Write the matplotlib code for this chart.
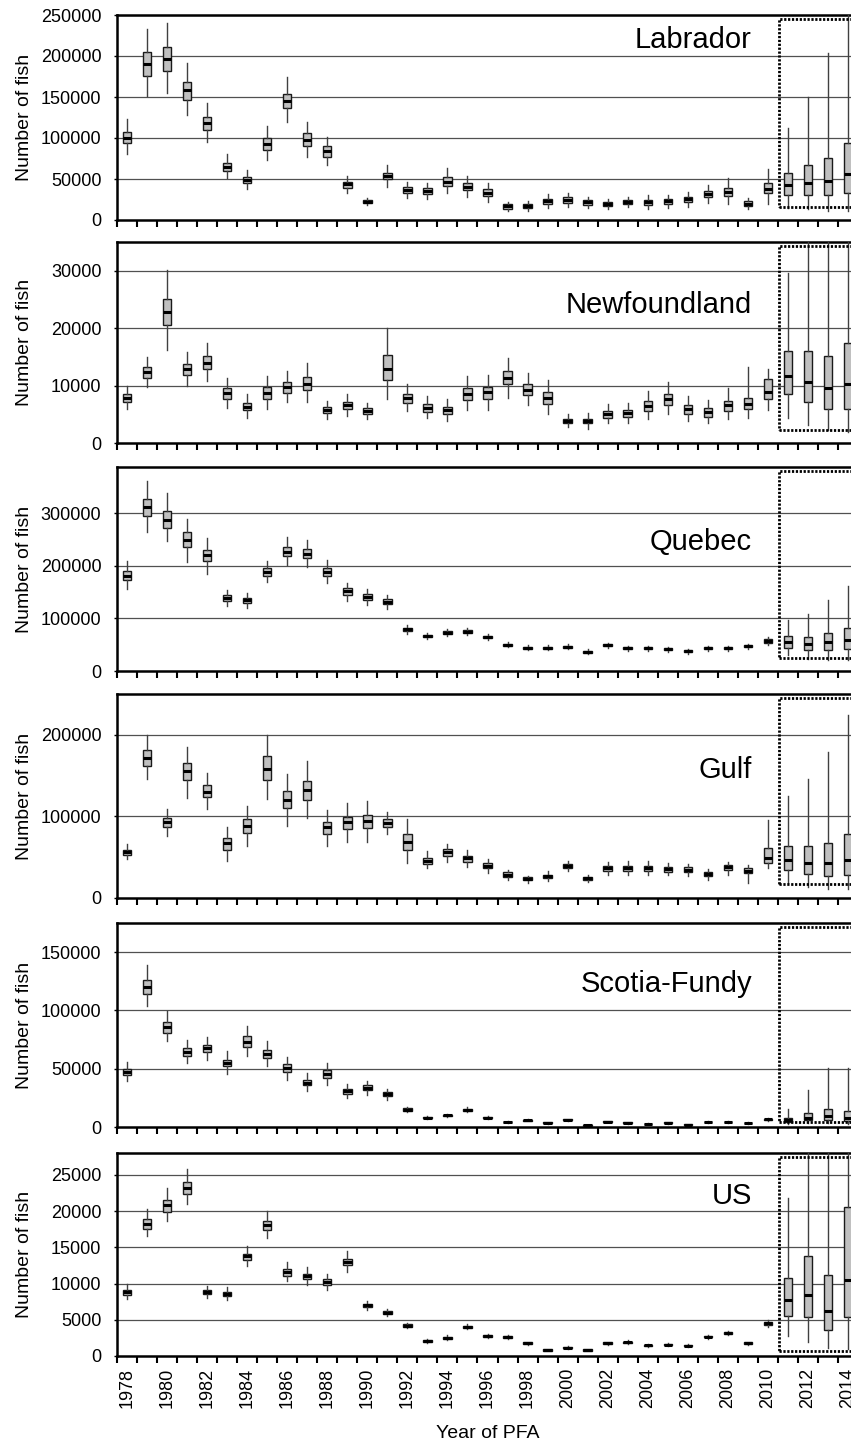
"""Box plots of estimated fish numbers by region and year of PFA."""

import matplotlib.pyplot as plt
from matplotlib.patches import Rectangle
from matplotlib.transforms import blended_transform_factory

plt.rcParams["font.family"] = ["Liberation Sans", "DejaVu Sans"]

YEARS = list(range(1978, 2015))

# Labrador
labrador_low = [81000, 151600, 155200, 128000, 95500, 50900, 38200, 73200, 119100, 77200,
                67100, 33300, 18500, 40600, 27200, 25600, 32600, 28400, 22300, 10600,
                11300, 14300, 15500, 14300, 13400, 15500, 13800, 15000, 16200, 21100,
                19500, 13000, 19100, 14300, 13000, 11300, 11300]
labrador_q1 = [93500, 175200, 182100, 146300, 110100, 59400, 45500, 85400, 136200, 90600,
               77200, 39400, 21000, 49600, 33300, 31700, 41500, 36600, 29300, 13800,
               15000, 19500, 21100, 18700, 17100, 19500, 18700, 19500, 22000, 27700,
               29300, 17100, 32600, 30500, 30500, 30500, 33300]
labrador_med = [100500, 189900, 196700, 158200, 118700, 64300, 49100, 93100, 145500, 97600,
                83800, 43500, 22500, 54000, 37000, 35000, 46700, 40600, 33300, 16700,
                17400, 22800, 24400, 21600, 19500, 22000, 22000, 22800, 25200, 31700,
                34500, 19900, 37400, 42300, 45100, 47600, 55700]
labrador_q3 = [107700, 204500, 211300, 168700, 126000, 69100, 52800, 100400, 154000, 105700,
               90200, 46700, 24000, 57700, 39900, 38700, 52000, 45500, 37400, 19100,
               19900, 25600, 27700, 24000, 22000, 24000, 24800, 25600, 28400, 35400,
               39400, 22800, 45500, 57700, 67400, 75200, 93500]
labrador_high = [122800, 232600, 239900, 191800, 142300, 80100, 60600, 115000, 174800, 119100,
                 101600, 53700, 26500, 67100, 46300, 44800, 63000, 53700, 44800, 22300,
                 23200, 31700, 33300, 28400, 25200, 28400, 30500, 30500, 33700, 42700,
                 50900, 26500, 61800, 112600, 149600, 203300, 270000]

# Newfoundland
newfoundland_low = [5900, 9700, 16200, 9900, 10800, 6100, 4400, 5900, 7100, 7100,
                    4200, 4700, 4100, 7600, 5600, 4400, 3900, 5800, 5700, 7900,
                    6700, 5100, 2700, 2500, 3400, 3500, 4100, 5000, 3800, 3400,
                    4100, 4400, 5700, 4400, 3100, 2200, 1900]
newfoundland_q1 = [7100, 11400, 20500, 11900, 12900, 7700, 5700, 7700, 8700, 9200,
                   5200, 5900, 5100, 10900, 7000, 5400, 5100, 7500, 7600, 10200,
                   8400, 6800, 3500, 3400, 4400, 4500, 5500, 6700, 5100, 4600,
                   5600, 6000, 7600, 8500, 7100, 6000, 6000]
newfoundland_med = [7900, 12350, 22800, 12900, 14000, 8700, 6300, 8700, 9700, 10300,
                    5800, 6600, 5600, 12900, 7800, 6100, 5700, 8600, 8800, 11300,
                    9300, 7800, 3900, 3800, 5000, 5200, 6400, 7700, 5900, 5400,
                    6600, 6800, 8900, 11600, 10700, 9600, 10200]
newfoundland_q3 = [8600, 13200, 25100, 13800, 15100, 9600, 7000, 9700, 10600, 11500,
                   6300, 7100, 6100, 15400, 8600, 6800, 6300, 9500, 9700, 12500,
                   10200, 8900, 4200, 4200, 5600, 5700, 7300, 8600, 6700, 6100,
                   7400, 7800, 11200, 16100, 16000, 15200, 17400]
newfoundland_high = [10000, 15000, 30200, 15800, 17500, 11300, 8600, 11600, 12500, 13900,
                     7300, 8500, 7000, 20100, 10200, 8100, 7700, 11600, 11900, 14800,
                     12200, 10900, 5100, 5200, 6800, 7000, 9000, 10600, 8200, 7500,
                     9500, 13200, 12900, 29600, 40000, 40000, 40000]

# Quebec
quebec_low = [156000, 263700, 247100, 206400, 184700, 124200, 120400, 168800, 201900, 198700,
              168100, 133700, 125500, 117800, 71000, 60000, 66000, 68000, 59000, 45000,
              39000, 39000, 41000, 32000, 44000, 38000, 38000, 36000, 33000, 38000,
              38000, 42000, 50000, 29900, 23600, 21700, 21700]
quebec_q1 = [172600, 294300, 272600, 235700, 208300, 133700, 129900, 180900, 217800, 214600,
             180900, 144600, 135000, 126700, 76000, 64000, 70000, 72000, 62500, 48000,
             42000, 42000, 44000, 34500, 47000, 41000, 41000, 39000, 35500, 41000,
             41000, 45000, 54000, 44600, 39500, 40800, 42700]
quebec_med = [181500, 311400, 287900, 249700, 219700, 139500, 135000, 188500, 226700, 222900,
              189200, 152200, 141400, 131800, 79000, 66500, 73000, 75000, 65000, 50000,
              44000, 44000, 46000, 36500, 49000, 43000, 43000, 41000, 37500, 43000,
              43000, 47000, 57000, 55400, 52200, 55400, 58600]
quebec_q3 = [190400, 327400, 303800, 263700, 230600, 144600, 139500, 195500, 235700, 231800,
             196800, 157300, 145900, 136300, 82000, 69000, 76000, 78000, 67500, 52000,
             46000, 46000, 48000, 38500, 51000, 45000, 45000, 43000, 39500, 45000,
             45000, 49000, 60000, 66200, 65000, 73200, 80900]
quebec_high = [209500, 360500, 338800, 289800, 253500, 154100, 149000, 208300, 254800, 248400,
               210200, 168100, 155400, 144600, 87000, 72000, 80000, 82000, 71000, 55000,
               49000, 49000, 51000, 41000, 54000, 48000, 48000, 46000, 42000, 48000,
               48000, 52000, 64000, 96800, 107600, 135000, 161800]

# Gulf
gulf_low = [47600, 146300, 76400, 122800, 108900, 45900, 64200, 121100, 88600, 98400,
            64200, 68300, 69100, 78000, 42700, 36600, 44700, 37400, 30500, 21500,
            18300, 21100, 32500, 19500, 28500, 27600, 27600, 27600, 26400, 21500,
            28500, 18300, 36600, 18300, 13400, 11000, 11000]
gulf_q1 = [52800, 162200, 87400, 144300, 123200, 58900, 79300, 145100, 109800, 119900,
           78500, 84100, 85400, 86600, 58900, 41900, 52000, 44700, 36600, 25600,
           21500, 24400, 36600, 22400, 33700, 33700, 33300, 32100, 31300, 26400,
           34600, 30500, 42700, 34600, 29700, 27200, 28500]
gulf_med = [56100, 171500, 92700, 155300, 130500, 67100, 88200, 158500, 120700, 132100,
            87400, 92700, 94300, 92300, 68300, 45900, 56100, 48800, 39800, 28500,
            23600, 26400, 39400, 24400, 36600, 36600, 36600, 35000, 34600, 29300,
            37400, 33300, 48800, 46700, 43500, 43500, 46700]
gulf_q3 = [58900, 180900, 97600, 165400, 138200, 74000, 96300, 173600, 130900, 143100,
           93500, 99600, 101600, 96300, 78000, 49600, 59800, 51600, 42700, 31300,
           25200, 28500, 41900, 26000, 39400, 39400, 39800, 37800, 37400, 32100,
           40700, 36200, 61000, 63800, 63800, 67900, 78500]
gulf_high = [65900, 200000, 108900, 185000, 153300, 87400, 113000, 200000, 152400, 167500,
             107700, 115900, 118700, 104900, 96700, 57700, 65900, 58900, 48000, 34600,
             27200, 32500, 45900, 28500, 44700, 45100, 45900, 43100, 41900, 35400,
             44700, 40700, 95500, 124800, 146300, 178900, 224400]

# Scotia-Fundy
scotia_low = [39500, 103900, 73600, 55000, 57200, 45200, 60700, 52400, 40600, 30600,
              36300, 24900, 27800, 23500, 12500, 6500, 8500, 12800, 6800, 3600,
              4900, 3000, 5500, 900, 3900, 3000, 2000, 3000, 1400, 3600,
              3600, 2800, 5500, 2900, 3700, 3700, 2900]
scotia_q1 = [44400, 114500, 81000, 61000, 64100, 52100, 68700, 59500, 47200, 35800,
             42400, 28600, 31500, 26600, 14000, 7500, 9400, 14100, 7500, 4000,
             5300, 3400, 5900, 1200, 4300, 3400, 2300, 3400, 1700, 4000,
             4000, 3100, 6100, 4300, 5700, 5700, 4900]
scotia_med = [47200, 120200, 85900, 64400, 67800, 55000, 73000, 63000, 50700, 38100,
              45800, 30900, 33500, 28600, 15000, 8000, 10000, 14900, 8000, 4300,
              5700, 3700, 6300, 1400, 4600, 3700, 2600, 3700, 2000, 4300,
              4300, 3400, 6600, 6300, 8000, 9200, 7700]
scotia_q3 = [49500, 126500, 90200, 68100, 70700, 57800, 77800, 66400, 53800, 40600,
             48700, 32900, 35800, 30100, 16000, 8500, 10600, 15700, 8500, 4600,
             6100, 4000, 6700, 1600, 4900, 4000, 2900, 4000, 2300, 4600,
             4600, 3700, 7100, 7700, 12000, 15700, 13500]
scotia_high = [55800, 138800, 99300, 75000, 77300, 65000, 86700, 73800, 60100, 46400,
               55000, 36600, 39200, 32900, 17500, 9500, 11500, 17000, 9200, 5000,
               6500, 4400, 7100, 1900, 5300, 4400, 3200, 4400, 2600, 5000,
               5000, 4000, 7800, 15700, 31500, 50700, 50700]

# US
us_low = [7840, 16510, 18590, 20900, 7980, 7660, 12360, 16280, 10290, 9730,
          9040, 11580, 6370, 5580, 3800, 1800, 2250, 3700, 2500, 2400,
          1500, 650, 950, 650, 1500, 1650, 1250, 1350, 1200, 2400,
          2900, 1500, 4000, 2770, 1980, 1060, 970]
us_q1 = [8350, 17530, 19880, 22370, 8530, 8210, 13290, 17440, 11070, 10560,
         9830, 12500, 6730, 5810, 4050, 1950, 2400, 3880, 2680, 2550,
         1630, 750, 1060, 750, 1630, 1780, 1380, 1470, 1330, 2560,
         3050, 1630, 4300, 5540, 5350, 3600, 5440]
us_med = [8760, 18220, 20760, 23110, 8810, 8530, 13750, 18130, 11580, 10980,
          10240, 13010, 6970, 5950, 4200, 2080, 2540, 4010, 2810, 2680,
          1750, 830, 1150, 830, 1750, 1890, 1480, 1570, 1430, 2680,
          3180, 1750, 4500, 7660, 8440, 6270, 10520]
us_q3 = [9130, 18910, 21500, 24030, 9130, 8810, 14120, 18680, 12040, 11350,
         10610, 13420, 7150, 6140, 4350, 2200, 2680, 4140, 2940, 2810,
         1870, 910, 1240, 910, 1870, 2000, 1580, 1670, 1530, 2800,
         3310, 1870, 4750, 10750, 13750, 11210, 20530]
us_high = [9960, 20340, 23200, 25740, 9690, 9460, 15130, 19970, 12920, 12220,
           11350, 14440, 7520, 6460, 4600, 2350, 2850, 4350, 3100, 2950,
           2000, 1000, 1350, 1000, 2000, 2150, 1700, 1800, 1650, 2950,
           3450, 2000, 5000, 21820, 32000, 32000, 32000]

REGIONS = ["Labrador", "Newfoundland", "Quebec", "Gulf", "Scotia-Fundy", "US"]
Y_MAX = [250000, 35000, 388000, 250000, 175000, 28000]
Y_STEP = [50000, 10000, 100000, 100000, 50000, 5000]

series = [
    (labrador_low, labrador_q1, labrador_med, labrador_q3, labrador_high),
    (newfoundland_low, newfoundland_q1, newfoundland_med, newfoundland_q3, newfoundland_high),
    (quebec_low, quebec_q1, quebec_med, quebec_q3, quebec_high),
    (gulf_low, gulf_q1, gulf_med, gulf_q3, gulf_high),
    (scotia_low, scotia_q1, scotia_med, scotia_q3, scotia_high),
    (us_low, us_q1, us_med, us_q3, us_high),
]

# panel placement in pixels (top, bottom) on an 851 x 1443 canvas
W, H = 851, 1443
LEFT_PX = 117
PANEL_PX = [(15, 220), (242, 443), (467, 671), (694, 898), (923, 1127), (1153, 1356)]
LABEL_Y = [0.837, 0.645, 0.593, 0.587, 0.662, 0.75]
# lower edge of the dotted projection box, as a fraction of each panel
BOX_BOTTOM = [0.065, 0.065, 0.066, 0.067, 0.026, 0.026]

fig = plt.figure(figsize=(W / 100, H / 100), dpi=100)
positions = list(range(len(YEARS)))

for i, region in enumerate(REGIONS):
    top, bottom = PANEL_PX[i]
    ax = fig.add_axes([LEFT_PX / W, 1 - bottom / H, 1 - LEFT_PX / W, (bottom - top) / H])

    low, q1, med, q3, high = series[i]
    stats = [
        {"whislo": lo, "q1": a, "med": m, "q3": b, "whishi": hi}
        for lo, a, m, b, hi in zip(low, q1, med, q3, high)
    ]
    ax.bxp(
        stats,
        positions=positions,
        widths=0.42,
        showfliers=False,
        showcaps=False,
        patch_artist=True,
        boxprops=dict(facecolor="#c0c0c0", edgecolor="#1a1a1a", linewidth=1.0),
        medianprops=dict(color="black", linewidth=2.2, solid_capstyle="butt"),
        whiskerprops=dict(color="#404040", linewidth=1.0),
        zorder=3,
    )

    # projection years
    trans = blended_transform_factory(ax.transData, ax.transAxes)
    ax.add_patch(Rectangle((32.55, BOX_BOTTOM[i]), 6, 0.981 - BOX_BOTTOM[i], transform=trans,
                           fill=False, edgecolor="black", linewidth=2.0,
                           linestyle=(0, (0.8, 0.6)), zorder=4))

    yticks = list(range(0, Y_MAX[i] + 1, Y_STEP[i]))
    ax.set_yticks(yticks)
    ax.set_yticklabels([str(t) for t in yticks])
    for t in yticks[1:]:
        ax.axhline(t, color="#505050", linewidth=0.9, zorder=1)

    ax.set_xticks([p - 0.5 for p in positions], minor=True)
    ax.set_xticks(positions[::2])
    ax.set_xlim(-0.5, 36.15)
    ax.set_ylim(0, Y_MAX[i])
    ax.tick_params(axis="x", which="minor", direction="out", length=5, width=1.5, color="black")
    ax.tick_params(axis="x", which="major", length=0, pad=8.6, labelsize=13)
    ax.tick_params(axis="y", direction="out", length=2.2, width=1.0, pad=9, labelsize=13)
    if i == len(REGIONS) - 1:
        ax.set_xticklabels([str(y) for y in YEARS[::2]], rotation=90)
    else:
        ax.set_xticklabels([])

    for side in ("top", "left", "bottom"):
        ax.spines[side].set_linewidth(1.8)
        ax.spines[side].set_color("black")
    ax.spines["right"].set_visible(False)

    ax.set_ylabel("Number of fish", fontsize=14)
    ax.yaxis.set_label_coords((33 - LEFT_PX) / (W - LEFT_PX), 0.5)

    ax.text(0.865, LABEL_Y[i], region, transform=ax.transAxes, ha="right",
            va="baseline", fontsize=21)

fig.text(488 / W, 1 - 1438 / H, "Year of PFA", ha="center", va="baseline", fontsize=14)

fig.savefig("out.png", dpi=100)
